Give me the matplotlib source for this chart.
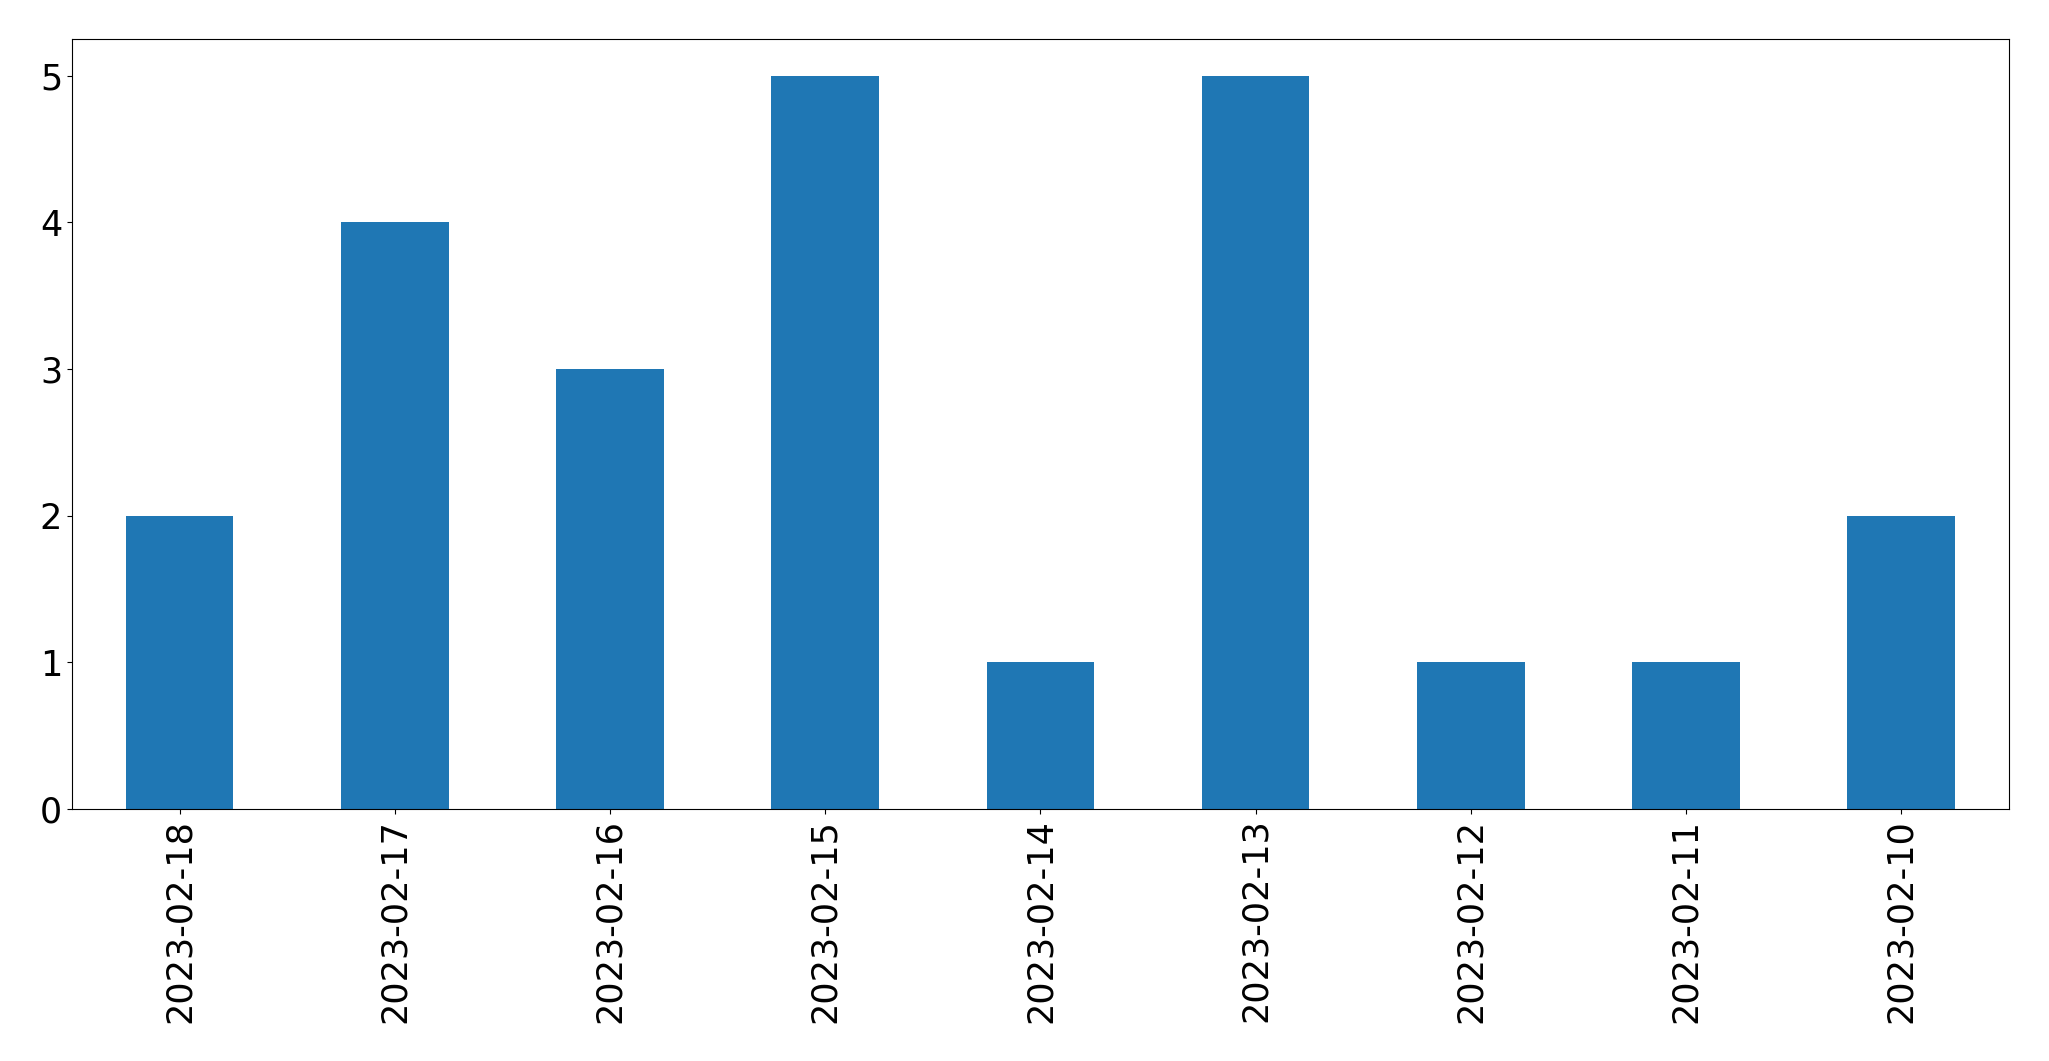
import numpy as np
import matplotlib.pyplot as plt

# values
dates = ["2023-02-18", "2023-02-17", "2023-02-16", "2023-02-15", "2023-02-14",
         "2023-02-13", "2023-02-12", "2023-02-11", "2023-02-10"]
counts = [2, 4, 3, 5, 1, 5, 1, 1, 2]


def main():
    fig = plt.figure(figsize=(20.49, 10.61), dpi=100)
    ax = fig.add_axes([0.0351, 0.2375, 0.9453, 0.7257])

    x = np.arange(len(dates))
    ax.bar(x, counts, width=0.5, color="#1f77b4")
    ax.set_xlim(-0.5, len(dates) - 0.5)
    ax.set_ylim(0, max(counts) * 1.05)
    ax.set_xticks(x)
    ax.set_xticklabels(dates, rotation=90)
    ax.set_yticks(range(0, 6))
    ax.tick_params(labelsize=25.2)

    fig.savefig("out.png", dpi=100)
    plt.close(fig)


if __name__ == "__main__":
    main()
